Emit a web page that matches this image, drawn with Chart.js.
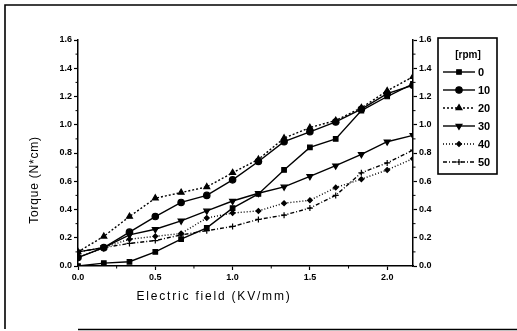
<!DOCTYPE html>
<html>
<head>
<meta charset="utf-8">
<script src="https://cdn.jsdelivr.net/npm/chart.js@4.4.1/dist/chart.umd.min.js"></script>
<style>
  html, body { margin: 0; padding: 0; background: #fff; }
  #wrap { width: 517px; height: 331px; position: relative; }
</style>
</head>
<body>
<div id="wrap"><canvas id="torqueChart"></canvas></div>
<script>
// electric field (KV/mm)
const fieldValues = [0, 0.167, 0.333, 0.5, 0.667, 0.833, 1.0, 1.167, 1.333, 1.5, 1.667, 1.833, 2.0, 2.167];

// torque (N*cm) per rotation speed
const rpmLabels = ["0", "10", "20", "30", "40", "50"];
const torque0  = [0, 0.02, 0.03, 0.10, 0.19, 0.27, 0.41, 0.51, 0.68, 0.84, 0.90, 1.10, 1.20, 1.29];
const torque10 = [0.06, 0.13, 0.24, 0.35, 0.45, 0.50, 0.61, 0.74, 0.88, 0.95, 1.02, 1.11, 1.22, 1.28];
const torque20 = [0.10, 0.21, 0.35, 0.48, 0.52, 0.56, 0.66, 0.755, 0.905, 0.98, 1.03, 1.12, 1.24, 1.34];
const torque30 = [0.10, 0.13, 0.22, 0.26, 0.32, 0.39, 0.46, 0.515, 0.56, 0.635, 0.71, 0.79, 0.88, 0.925];
const torque40 = [0.06, 0.13, 0.19, 0.21, 0.23, 0.34, 0.375, 0.39, 0.445, 0.465, 0.555, 0.615, 0.68, 0.76];
const torque50 = [0.10, 0.13, 0.16, 0.18, 0.22, 0.25, 0.28, 0.33, 0.36, 0.41, 0.50, 0.66, 0.73, 0.82];

const yTicks = [0, 0.2, 0.4, 0.6, 0.8, 1.0, 1.2, 1.4, 1.6];
const xTicks = [0, 0.5, 1.0, 1.5, 2.0];

const seriesStyles = [
  { data: torque0,  pointStyle: "rect",     radius: 3.2, rotation: 0,   dash: [] },
  { data: torque10, pointStyle: "circle",   radius: 3.2, rotation: 0,   dash: [] },
  { data: torque20, pointStyle: "triangle", radius: 3.4, rotation: 0,   dash: [2, 2] },
  { data: torque30, pointStyle: "triangle", radius: 3.4, rotation: 180, dash: [] },
  { data: torque40, pointStyle: "rectRot",  radius: 2.4, rotation: 0,   dash: [1, 2] },
  { data: torque50, pointStyle: "cross",    radius: 3,   rotation: 0,   dash: [4, 2, 1, 2] },
];

const tickFont = { family: "Liberation Sans", size: 9, weight: "bold" };

const datasets = seriesStyles.map((s, i) => ({
  label: rpmLabels[i],
  data: s.data.map((v, j) => ({ x: fieldValues[j], y: v })),
  borderColor: "#000",
  backgroundColor: "#000",
  borderWidth: 1.4,
  borderDash: s.dash,
  pointStyle: s.pointStyle,
  pointRadius: s.radius,
  pointRotation: s.rotation,
  pointBorderWidth: 1.2,
  pointBackgroundColor: "#000",
  pointBorderColor: "#000",
  tension: 0,
}));

// frame, minor ticks, axis titles and the boxed legend
const decorPlugin = {
  id: "decor",
  afterDraw(chart) {
    const ctx = chart.ctx;
    const xs = chart.scales.x, ys = chart.scales.y, y2 = chart.scales.y2;
    ctx.save();
    ctx.strokeStyle = "#000";
    ctx.fillStyle = "#000";

    // outer frame
    ctx.lineWidth = 1.6;
    ctx.beginPath();
    ctx.moveTo(5, 329);
    ctx.lineTo(5, 5);
    ctx.lineTo(517, 5);
    ctx.moveTo(78, 329.5);
    ctx.lineTo(517, 329.5);
    ctx.stroke();

    // minor ticks
    ctx.lineWidth = 1;
    ctx.beginPath();
    for (let v = 0.1; v < 1.6; v += 0.2) {
      const py = ys.getPixelForValue(v);
      ctx.moveTo(ys.right, py); ctx.lineTo(ys.right - 2.5, py);
      ctx.moveTo(y2.left, py); ctx.lineTo(y2.left + 2.5, py);
    }
    for (let v = 0.25; v < 2.167; v += 0.5) {
      const px = xs.getPixelForValue(v);
      ctx.moveTo(px, xs.top); ctx.lineTo(px, xs.top + 2.5);
    }
    ctx.stroke();

    // axis titles
    ctx.font = "12px 'Liberation Sans'";
    ctx.letterSpacing = "1.8px";
    ctx.textAlign = "center";
    ctx.textBaseline = "middle";
    ctx.fillText("Electric field (KV/mm)", 214, 297);
    ctx.save();
    ctx.translate(35, 180);
    ctx.rotate(-Math.PI / 2);
    ctx.letterSpacing = "0.8px";
    ctx.fillText("Torque (N*cm)", 0, 0);
    ctx.restore();
    ctx.letterSpacing = "0px";

    // legend box
    ctx.lineWidth = 1.6;
    ctx.strokeRect(438, 38, 59, 136);
    ctx.font = "bold 10px 'Liberation Sans'";
    ctx.fillText("[rpm]", 468, 55);
    ctx.font = "bold 11px 'Liberation Sans'";
    ctx.textAlign = "left";
    chart.data.datasets.forEach((ds, i) => {
      const ly = 72 + i * 18;
      ctx.lineWidth = 1.4;
      ctx.setLineDash(ds.borderDash);
      ctx.beginPath();
      ctx.moveTo(443, ly); ctx.lineTo(475, ly);
      ctx.stroke();
      ctx.setLineDash([]);
      ctx.lineWidth = 1.2;
      Chart.helpers.drawPoint(ctx, {
        pointStyle: ds.pointStyle, radius: ds.pointRadius,
        rotation: ds.pointRotation, borderWidth: 1.2
      }, 459, ly);
      ctx.fillText(ds.label, 478, ly + 0.5);
    });
    ctx.restore();
  }
};

new Chart(document.getElementById("torqueChart"), {
  type: "line",
  data: { datasets },
  plugins: [decorPlugin],
  options: {
    responsive: true,
    maintainAspectRatio: false,
    animation: false,
    layout: { padding: { left: 0, right: 74, top: 40, bottom: 0 } },
    plugins: { legend: { display: false }, tooltip: { enabled: false } },
    scales: {
      x: {
        type: "linear",
        min: 0,
        max: 2.167,
        afterFit: (s) => { s.height = 65; },
        afterBuildTicks: (s) => { s.ticks = xTicks.map((v) => ({ value: v })); },
        ticks: { color: "#000", font: tickFont, padding: 2, maxRotation: 0,
                 callback: (v) => Number(v).toFixed(1) },
        grid: { drawOnChartArea: false, color: "#000", tickLength: 4, tickWidth: 1.2 },
        border: { color: "#000", width: 1.5 },
      },
      y: {
        min: 0,
        max: 1.6,
        position: "left",
        afterFit: (s) => { s.width = 78; },
        afterBuildTicks: (s) => { s.ticks = yTicks.map((v) => ({ value: v })); },
        ticks: { color: "#000", font: tickFont, padding: 2,
                 callback: (v) => Number(v).toFixed(1) },
        grid: { drawOnChartArea: false, color: "#000", tickLength: 4, tickWidth: 1.2 },
        border: { color: "#000", width: 1.5 },
      },
      y2: {
        min: 0,
        max: 1.6,
        position: "right",
        afterFit: (s) => { s.width = 30; },
        afterBuildTicks: (s) => { s.ticks = yTicks.map((v) => ({ value: v })); },
        ticks: { color: "#000", font: tickFont, padding: 2,
                 callback: (v) => Number(v).toFixed(1) },
        grid: { drawOnChartArea: false, color: "#000", tickLength: 4, tickWidth: 1.2 },
        border: { color: "#000", width: 1.5 },
      },
    },
  },
});
</script>
</body>
</html>
